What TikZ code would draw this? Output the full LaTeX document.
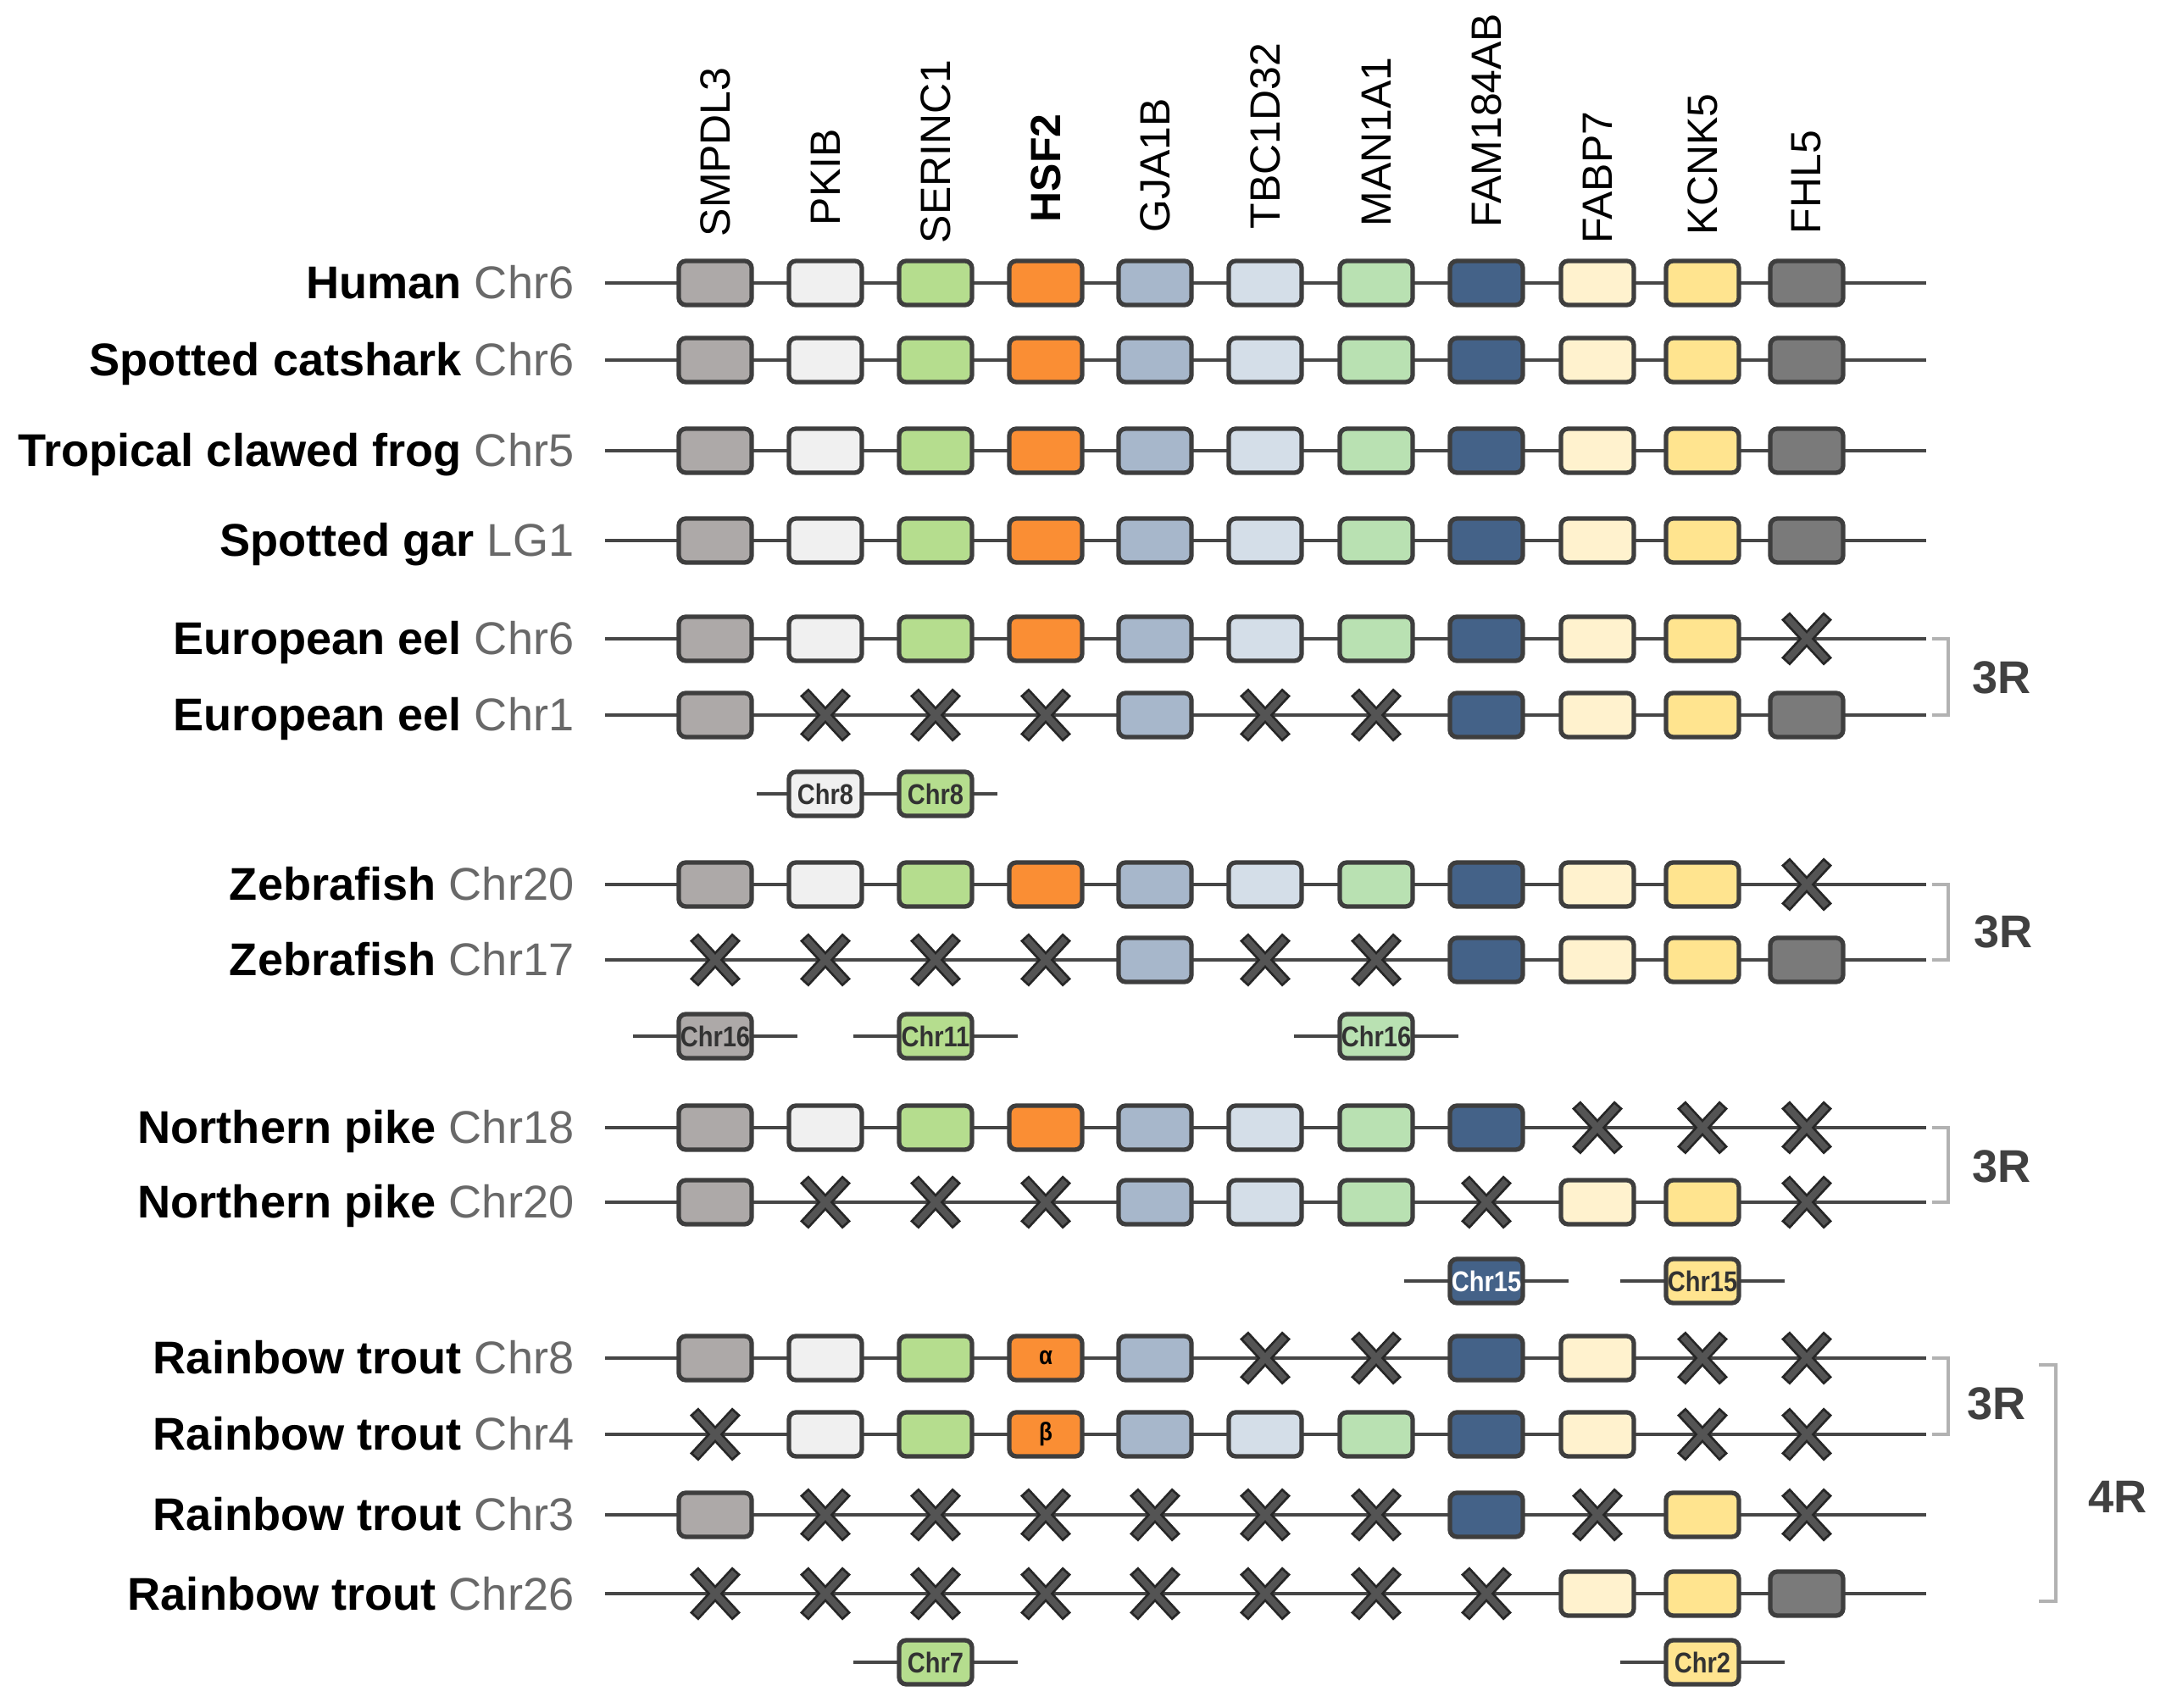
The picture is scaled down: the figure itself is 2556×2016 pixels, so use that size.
\documentclass[tikz,border=0pt]{standalone}
\usepackage{fontspec}
\setmainfont{Liberation Sans}
\newfontfamily\narrowsf[FakeStretch=0.86]{Liberation Sans}
\usetikzlibrary{calc}

% gene colours, by column
\definecolor{gene0}{RGB}{173,169,168}
\definecolor{gene1}{RGB}{240,240,240}
\definecolor{gene2}{RGB}{181,221,142}
\definecolor{gene3}{RGB}{250,142,52}
\definecolor{gene4}{RGB}{167,183,203}
\definecolor{gene5}{RGB}{212,222,232}
\definecolor{gene6}{RGB}{185,225,178}
\definecolor{gene7}{RGB}{68,98,136}
\definecolor{gene8}{RGB}{255,242,206}
\definecolor{gene9}{RGB}{255,228,143}
\definecolor{gene10}{RGB}{122,122,122}
\definecolor{edgegray}{RGB}{62,62,62}
\definecolor{linegray}{RGB}{70,70,70}
\definecolor{chrgray}{RGB}{105,105,105}
\definecolor{tagtext}{RGB}{50,50,50}
\definecolor{xdark}{RGB}{38,38,38}
\definecolor{xmid}{RGB}{84,84,84}
\definecolor{brackgray}{RGB}{178,178,178}
\definecolor{labelgray}{RGB}{64,64,64}

\tikzset{
  chrline/.style={draw=linegray, line width=1.3pt},
  gene/.style={draw=edgegray, line width=1.5pt, rounded corners=2.4pt,
    minimum width=0.86cm, minimum height=0.52cm, inner sep=0pt,
    font=\narrowsf\bfseries\fontsize{8.6}{10}\selectfont},
  paralog/.style={gene, text=tagtext, font=\narrowsf\bfseries\fontsize{9.6}{11}\selectfont},
  species/.style={anchor=base east, inner sep=0pt, font=\fontsize{15.4}{18}\selectfont},
  genename/.style={rotate=90, anchor=west, inner sep=0pt, font=\fontsize{14.2}{17}\selectfont},
  lossout/.style={draw=xdark, line width=0.135cm},
  lossin/.style={draw=xmid, line width=0.08cm},
  bracket/.style={draw=brackgray, line width=1.2pt},
  roundlabel/.style={inner sep=0pt, text=labelgray, font=\bfseries\fontsize{15.4}{18}\selectfont},
}

\def\colx{{844,974,1104,1234,1363,1493,1624,1754,1885,2009,2132}}

\newcommand{\drawChr}[3]{% name, y, species label
  \coordinate (#1s) at (714,#2);
  \coordinate (#1e) at (2273,#2);
  \draw[chrline] (#1s) -- (#1e);
  \node[species] (#1lab) at (678,#2+19) {#3};
}
\newcommand{\drawGene}[4][]{% text, name, column, y
  \pgfmathsetmacro{\genex}{\colx[#3]}
  \node[gene, fill=gene#3] (#2) at (\genex,#4) {#1};
}
\newcommand{\drawLost}[3]{% name, column, y
  \pgfmathsetmacro{\genex}{\colx[#2]}
  \coordinate (#1) at (\genex,#3);
  \draw[lossout] (#1) +(-25,-27) -- +(25,27) (#1) +(-25,27) -- +(25,-27);
  \draw[lossin] (#1) +(-23,-25) -- +(23,25) (#1) +(-23,25) -- +(23,-25);
}
\newcommand{\drawParalog}[5][tagtext]{% text colour, name, column, y, label
  \pgfmathsetmacro{\genex}{\colx[#3]}
  \coordinate (#2w) at (\genex-97,#4);
  \coordinate (#2e) at (\genex+97,#4);
  \draw[chrline] (#2w) -- (#2e);
  \node[paralog, fill=gene#3, text=#1] (#2) at (\genex,#4) {#5};
}

\begin{document}
\begin{tikzpicture}[x=0.01cm,y=-0.01cm]
\useasboundingbox (0,0) rectangle (2556,2016);

% Gene names
\node[genename] (nSMPDL3) at (844,280) {SMPDL3};
\node[genename] (nPKIB) at (974,267) {PKIB};
\node[genename] (nSERINC1) at (1104,288) {SERINC1};
\node[genename] (nHSF2) at (1234,263) {\textbf{HSF2}};
\node[genename] (nGJA1B) at (1363,275) {GJA1B};
\node[genename] (nTBC1D32) at (1493,271) {TBC1D32};
\node[genename] (nMAN1A1) at (1624,268) {MAN1A1};
\node[genename] (nFAM184AB) at (1754,269) {FAM184AB};
\node[genename] (nFABP7) at (1885,288) {FABP7};
\node[genename] (nKCNK5) at (2009,278) {KCNK5};
\node[genename] (nFHL5) at (2132,277) {FHL5};

% Outgroups
\drawChr{hum}{334}{\textbf{Human} \textcolor{chrgray}{Chr6}}
\foreach \c in {0,...,10} {\drawGene{hum\c}{\c}{334}}
\drawChr{shark}{425}{\textbf{Spotted catshark} \textcolor{chrgray}{Chr6}}
\foreach \c in {0,...,10} {\drawGene{shark\c}{\c}{425}}
\drawChr{frog}{532}{\textbf{Tropical clawed frog} \textcolor{chrgray}{Chr5}}
\foreach \c in {0,...,10} {\drawGene{frog\c}{\c}{532}}
\drawChr{gar}{638}{\textbf{Spotted gar} \textcolor{chrgray}{LG1}}
\foreach \c in {0,...,10} {\drawGene{gar\c}{\c}{638}}

% European eel
\drawChr{eela}{754}{\textbf{European eel} \textcolor{chrgray}{Chr6}}
\foreach \c in {0,...,9} {\drawGene{eela\c}{\c}{754}}
\drawLost{eela10}{10}{754}
\drawChr{eelb}{844}{\textbf{European eel} \textcolor{chrgray}{Chr1}}
\foreach \c in {0,4,7,8,9,10} {\drawGene{eelb\c}{\c}{844}}
\foreach \c in {1,2,3,5,6} {\drawLost{eelb\c}{\c}{844}}
\coordinate (eelps) at (893,937);
\coordinate (eelpe) at (1177,937);
\draw[chrline] (eelps) -- (eelpe);
\node[paralog, fill=gene1] (eelp1) at (974,937) {Chr8};
\node[paralog, fill=gene2] (eelp2) at (1104,937) {Chr8};
\draw[bracket] ([xshift=0.07cm]eelae) -- ++(19,0) |- ([xshift=0.07cm]eelbe);
\node[roundlabel] (eelR) at (2362,800) {3R};

% Zebrafish
\drawChr{zeba}{1044}{\textbf{Zebrafish} \textcolor{chrgray}{Chr20}}
\foreach \c in {0,...,9} {\drawGene{zeba\c}{\c}{1044}}
\drawLost{zeba10}{10}{1044}
\drawChr{zebb}{1133}{\textbf{Zebrafish} \textcolor{chrgray}{Chr17}}
\foreach \c in {4,7,8,9,10} {\drawGene{zebb\c}{\c}{1133}}
\foreach \c in {0,1,2,3,5,6} {\drawLost{zebb\c}{\c}{1133}}
\drawParalog{zebp0}{0}{1223}{Chr16}
\drawParalog{zebp2}{2}{1223}{Chr11}
\drawParalog{zebp6}{6}{1223}{Chr16}
\draw[bracket] ([xshift=0.07cm]zebae) -- ++(19,0) |- ([xshift=0.07cm]zebbe);
\node[roundlabel] (zebR) at (2364,1100) {3R};

% Northern pike
\drawChr{pikea}{1331}{\textbf{Northern pike} \textcolor{chrgray}{Chr18}}
\foreach \c in {0,...,7} {\drawGene{pikea\c}{\c}{1331}}
\foreach \c in {8,9,10} {\drawLost{pikea\c}{\c}{1331}}
\drawChr{pikeb}{1419}{\textbf{Northern pike} \textcolor{chrgray}{Chr20}}
\foreach \c in {0,4,5,6,8,9} {\drawGene{pikeb\c}{\c}{1419}}
\foreach \c in {1,2,3,7,10} {\drawLost{pikeb\c}{\c}{1419}}
\drawParalog[white]{pikep7}{7}{1512}{Chr15}
\drawParalog{pikep9}{9}{1512}{Chr15}
\draw[bracket] ([xshift=0.07cm]pikeae) -- ++(19,0) |- ([xshift=0.07cm]pikebe);
\node[roundlabel] (pikeR) at (2362,1377) {3R};

% Rainbow trout
\drawChr{trouta}{1603}{\textbf{Rainbow trout} \textcolor{chrgray}{Chr8}}
\foreach \c in {0,1,2,4,7,8} {\drawGene{trouta\c}{\c}{1603}}
\drawGene[α]{trouta3}{3}{1603}
\foreach \c in {5,6,9,10} {\drawLost{trouta\c}{\c}{1603}}
\drawChr{troutb}{1693}{\textbf{Rainbow trout} \textcolor{chrgray}{Chr4}}
\foreach \c in {1,2,4,5,6,7,8} {\drawGene{troutb\c}{\c}{1693}}
\drawGene[β]{troutb3}{3}{1693}
\foreach \c in {0,9,10} {\drawLost{troutb\c}{\c}{1693}}
\drawChr{troutc}{1788}{\textbf{Rainbow trout} \textcolor{chrgray}{Chr3}}
\foreach \c in {0,7,9} {\drawGene{troutc\c}{\c}{1788}}
\foreach \c in {1,2,3,4,5,6,8,10} {\drawLost{troutc\c}{\c}{1788}}
\drawChr{troutd}{1881}{\textbf{Rainbow trout} \textcolor{chrgray}{Chr26}}
\foreach \c in {8,9,10} {\drawGene{troutd\c}{\c}{1881}}
\foreach \c in {0,...,7} {\drawLost{troutd\c}{\c}{1881}}
\drawParalog{troutp2}{2}{1962}{Chr7}
\drawParalog{troutp9}{9}{1962}{Chr2}
\draw[bracket] ([xshift=0.07cm]troutae) -- ++(19,0) |- ([xshift=0.07cm]troutbe);
\node[roundlabel] (troutR) at (2356,1657) {3R};
\coordinate (fourtop) at (2406,1611);
\coordinate (fourbot) at (2406,1890);
\draw[bracket] (fourtop) -- ++(20,0) |- (fourbot);
\node[roundlabel] (fourR) at (2499,1767) {4R};

\end{tikzpicture}
\end{document}
